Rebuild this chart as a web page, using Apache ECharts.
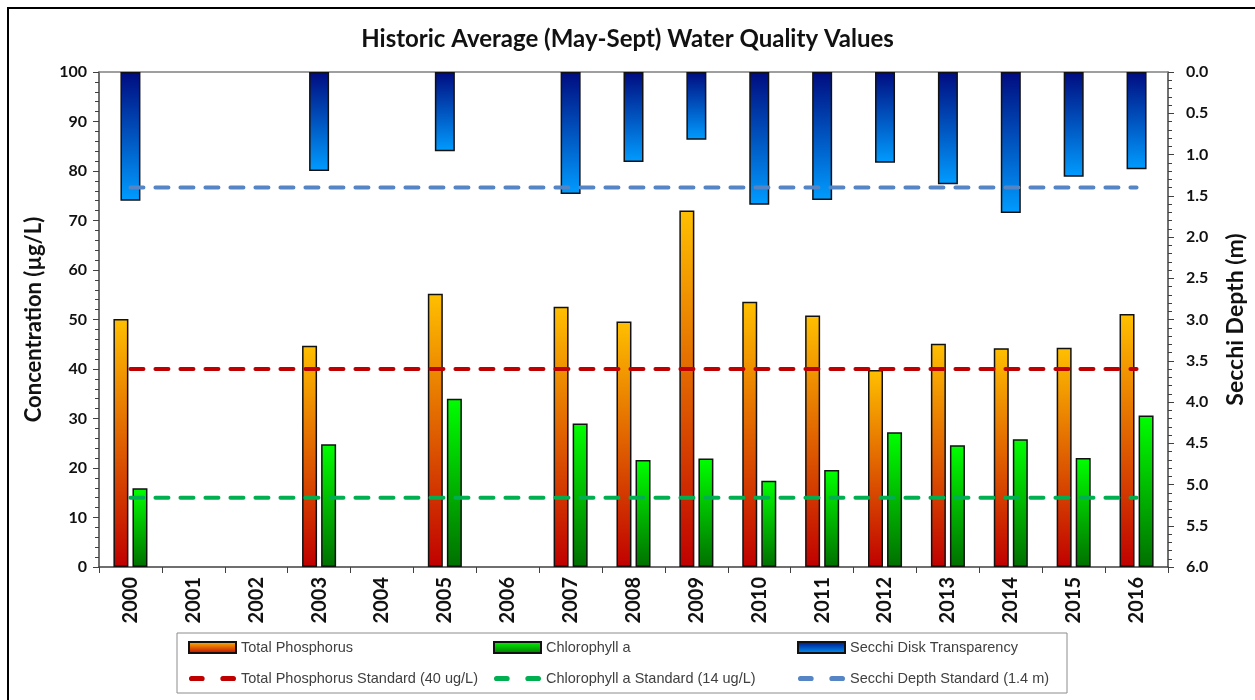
<!DOCTYPE html>
<html><head><meta charset="utf-8">
<script src="https://cdn.jsdelivr.net/npm/echarts@6/dist/echarts.min.js"></script>
<style>html,body{margin:0;padding:0;background:#fff}#c{width:1255px;height:700px}</style>
</head><body><div id="c"></div>
<script>
var years = ['2000','2001','2002','2003','2004','2005','2006','2007','2008','2009','2010','2011','2012','2013','2014','2015','2016'];
var totalPhosphorus = [50.1,null,null,44.7,null,55.2,null,52.6,49.6,72.0,53.6,50.8,39.8,45.1,44.2,44.3,51.1];
var chlorophyll = [15.9,null,null,24.8,null,34.0,null,29.0,21.6,21.9,17.4,19.6,27.2,24.6,25.8,22.0,30.6];
var secchi = [1.56,null,null,1.20,null,0.96,null,1.48,1.09,0.82,1.61,1.55,1.10,1.36,1.71,1.27,1.18];
var tpStandard = 40, chlStandard = 14, secchiStandard = 1.4;
var leftTicks = {min:0, max:100, interval:10};
var rightTicks = {min:0, max:6, interval:0.5};

function fill(v){ return years.map(function(){ return v; }); }
function grad(top, bottom){
  return new echarts.graphic.LinearGradient(0,0,0,1,[{offset:0,color:top},{offset:1,color:bottom}]);
}
var boldFont = 'Lato, "Open Sans", sans-serif';
var legFont = '"Liberation Sans Narrow", "Liberation Sans", sans-serif';
var dashIcon = 'path://M2,0h8a2,2 0 0 1 0,4h-8a2,2 0 0 1 0,-4zM26,0h8a2,2 0 0 1 0,4h-8a2,2 0 0 1 0,-4z';

var chart = echarts.init(document.getElementById('c'));
var legendCommon = {
  orient:'vertical', itemWidth:47, itemHeight:11, itemGap:16, top:635,
  textStyle:{fontFamily:legFont, fontSize:14.5, color:'#404040'}
};
chart.setOption({
  animation:false,
  backgroundColor:'#fff',
  title:{text:'Historic Average (May-Sept) Water Quality Values', left:'center', top:22,
    textStyle:{fontFamily:boldFont, fontWeight:'bold', fontSize:24, color:'#111'}},
  graphic:[
    {type:'rect', shape:{x:8,y:8,width:1260,height:700}, style:{fill:'none', stroke:'#000', lineWidth:2}, silent:true},
    {type:'rect', shape:{x:177,y:633,width:890,height:60}, style:{fill:'none', stroke:'#8c8c8c', lineWidth:1}, silent:true}
  ],
  legend:[
    Object.assign({left:183, data:[{name:'Total Phosphorus', icon:'rect'},{name:'Total Phosphorus Standard (40 ug/L)', icon:dashIcon}]}, legendCommon),
    Object.assign({left:488, data:[{name:'Chlorophyll a', icon:'rect'},{name:'Chlorophyll a Standard (14 ug/L)', icon:dashIcon}]}, legendCommon),
    Object.assign({left:792, data:[{name:'Secchi Disk Transparency', icon:'rect'},{name:'Secchi Depth Standard (1.4 m)', icon:dashIcon}]}, legendCommon)
  ],
  grid:{left:99, right:84, top:72, bottom:133},
  xAxis:[
    {type:'category', data:years, position:'bottom',
     axisLine:{lineStyle:{color:'#404040', width:1.5}},
     axisTick:{show:true, length:6, lineStyle:{color:'#404040'}},
     axisLabel:{rotate:90, margin:10, fontFamily:boldFont, fontWeight:'bold', fontSize:20, color:'#111'}},
    {type:'category', data:years, position:'top',
     axisLine:{lineStyle:{color:'#808080', width:1.5}},
     axisTick:{show:false}, axisLabel:{show:false}}
  ],
  yAxis:[
    {type:'value', min:leftTicks.min, max:leftTicks.max, interval:leftTicks.interval, position:'left',
     name:'Concentration (µg/L)', nameLocation:'middle', nameGap:54, nameRotate:90,
     nameTextStyle:{fontFamily:boldFont, fontWeight:'bold', fontSize:22, color:'#111'},
     axisLine:{show:true, lineStyle:{color:'#404040', width:1.5}},
     axisTick:{show:true, length:6, lineStyle:{color:'#404040'}},
     minorTick:{show:true, splitNumber:5, length:4, lineStyle:{color:'#404040'}},
     splitLine:{show:false},
     axisLabel:{margin:12, fontFamily:boldFont, fontWeight:'bold', fontSize:16, color:'#111'}},
    {type:'value', min:rightTicks.min, max:rightTicks.max, interval:rightTicks.interval, inverse:true, position:'right',
     name:'Secchi Depth (m)', nameLocation:'middle', nameGap:56, nameRotate:90,
     nameTextStyle:{fontFamily:boldFont, fontWeight:'bold', fontSize:23, color:'#111'},
     axisLine:{show:true, lineStyle:{color:'#404040', width:1.5}},
     axisTick:{show:true, length:6, lineStyle:{color:'#404040'}},
     minorTick:{show:true, splitNumber:5, length:4, lineStyle:{color:'#404040'}},
     splitLine:{show:false},
     axisLabel:{margin:18, fontFamily:boldFont, fontWeight:'bold', fontSize:16, color:'#111',
       formatter:function(v){return v.toFixed(1);}}}
  ],
  series:[
    {name:'Total Phosphorus', type:'bar', xAxisIndex:0, yAxisIndex:0, data:totalPhosphorus,
     barWidth:15, barGap:'27%',
     itemStyle:{color:grad('#FFC000','#C00000'), borderColor:'#111', borderWidth:1.5}},
    {name:'Chlorophyll a', type:'bar', xAxisIndex:0, yAxisIndex:0, data:chlorophyll,
     barWidth:15, barGap:'27%',
     itemStyle:{color:grad('#00FF00','#007000'), borderColor:'#111', borderWidth:1.5}},
    {name:'Secchi Disk Transparency', type:'bar', xAxisIndex:1, yAxisIndex:1, data:secchi,
     barWidth:20,
     itemStyle:{color:grad('#000C80','#009CFF'), borderColor:'#111', borderWidth:1.5}},
    {name:'Total Phosphorus Standard (40 ug/L)', type:'line', xAxisIndex:0, yAxisIndex:0, data:fill(tpStandard),
     symbol:'none', z:5, lineStyle:{color:'#C00000', width:4, type:[13,12], cap:'round'}, itemStyle:{color:'#C00000'}},
    {name:'Chlorophyll a Standard (14 ug/L)', type:'line', xAxisIndex:0, yAxisIndex:0, data:fill(chlStandard),
     symbol:'none', z:5, lineStyle:{color:'#00B050', width:4, type:[13,12], cap:'round'}, itemStyle:{color:'#00B050'}},
    {name:'Secchi Depth Standard (1.4 m)', type:'line', xAxisIndex:1, yAxisIndex:1, data:fill(secchiStandard),
     symbol:'none', z:5, lineStyle:{color:'#5585C5', width:4, type:[13,12], cap:'round'}, itemStyle:{color:'#5585C5'}}
  ]
});
</script></body></html>
